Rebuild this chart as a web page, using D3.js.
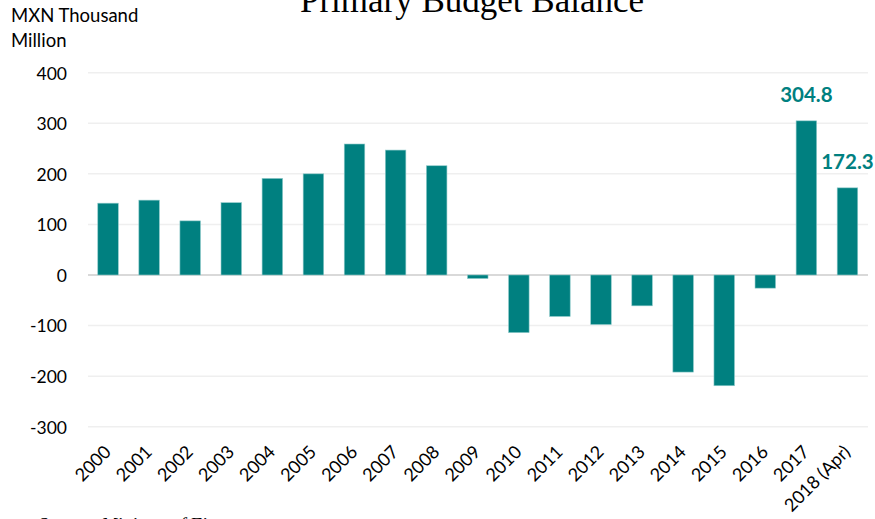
<!DOCTYPE html>
<html>
<head>
<meta charset="utf-8">
<script src="https://cdn.jsdelivr.net/npm/d3@7"></script>
<style>
  html, body { margin: 0; padding: 0; background: #fff; }
  svg { display: block; }
</style>
</head>
<body>
<svg id="chart" width="875" height="519"></svg>
<script>
// Primary budget balance, MXN thousand million
const years = ["2000","2001","2002","2003","2004","2005","2006","2007","2008","2009",
               "2010","2011","2012","2013","2014","2015","2016","2017","2018 (Apr)"];
const balance = [142, 148, 107, 143, 191, 200, 259, 247, 216, -7,
                 -114, -82, -98, -61, -192, -219, -26, 304.8, 172.3];
const labelled = ["2017", "2018 (Apr)"];
const yTicks = [-300, -200, -100, 0, 100, 200, 300, 400];

const teal = "#008080";
const sans = "Lato, 'Open Sans', sans-serif";
const svg = d3.select("#chart");

const x = d3.scaleBand().domain(years).range([87.5, 868]).paddingInner(0.5).paddingOuter(0.25);
const y = d3.scaleLinear().domain([-300, 400]).range([426.7, 72.7]);

// gridlines
svg.append("g")
  .selectAll("line")
  .data(yTicks)
  .join("line")
  .attr("x1", 88).attr("x2", 868)
  .attr("y1", d => y(d)).attr("y2", d => y(d))
  .attr("stroke", d => d === 0 ? "#d9d9d9" : "#efefef")
  .attr("stroke-width", d => d === 0 ? 2 : 1.5);

// y axis tick labels (plain hyphen for negatives)
const yAxis = d3.axisLeft(y).tickValues(yTicks).tickSize(0).tickPadding(0)
  .tickFormat(d => String(d));
svg.append("g")
  .attr("transform", "translate(67,0)")
  .call(yAxis)
  .call(g => g.select(".domain").remove())
  .selectAll("text")
  .attr("font-family", sans)
  .attr("font-size", 17.5)
  .attr("fill", "#000")
  .attr("dy", "0.36em");

// bars
svg.append("g")
  .selectAll("rect")
  .data(years.map((yr, i) => ({ yr, v: balance[i] })))
  .join("rect")
  .attr("x", d => x(d.yr))
  .attr("width", x.bandwidth())
  .attr("y", d => y(Math.max(0, d.v)))
  .attr("height", d => Math.abs(y(d.v) - y(0)))
  .attr("fill", teal)
  .attr("stroke", "#8fcaca")
  .attr("stroke-width", 0.6);

// value labels
svg.append("g")
  .selectAll("text")
  .data(years.map((yr, i) => ({ yr, v: balance[i] })).filter(d => labelled.includes(d.yr)))
  .join("text")
  .attr("x", d => x(d.yr) + x.bandwidth() / 2)
  .attr("y", d => y(d.v) - 19)
  .attr("text-anchor", "middle")
  .attr("font-family", sans)
  .attr("font-weight", "bold")
  .attr("font-size", 20.5)
  .attr("fill", teal)
  .text(d => d.v.toFixed(1));

// x axis labels, rotated 45 degrees
const xAxis = d3.axisBottom(x).tickSize(0).tickPadding(0);
svg.append("g")
  .attr("transform", "translate(0,438)")
  .call(xAxis)
  .call(g => g.select(".domain").remove())
  .selectAll("text")
  .attr("font-family", sans)
  .attr("font-size", 18)
  .attr("fill", "#000")
  .attr("text-anchor", "end")
  .attr("y", 0)
  .attr("dy", 0)
  .attr("transform", "translate(4,15) rotate(-45)");

// axis title
const unit = svg.append("text")
  .attr("font-family", sans)
  .attr("font-size", 18.5)
  .attr("fill", "#000");
unit.append("tspan").attr("x", 11).attr("y", 22).text("MXN Thousand");
unit.append("tspan").attr("x", 11).attr("y", 47).text("Million");

// chart title
svg.append("text")
  .attr("x", 472).attr("y", 12)
  .attr("text-anchor", "middle")
  .attr("font-family", "'Liberation Serif', serif")
  .attr("font-size", 35)
  .attr("fill", "#000")
  .text("Primary Budget Balance");

// source note
svg.append("text")
  .attr("x", 38).attr("y", 531)
  .attr("font-family", "'Liberation Serif', serif")
  .attr("font-style", "italic")
  .attr("font-size", 19)
  .attr("fill", "#000")
  .text("Source: Ministry of Finance");
</script>
</body>
</html>
